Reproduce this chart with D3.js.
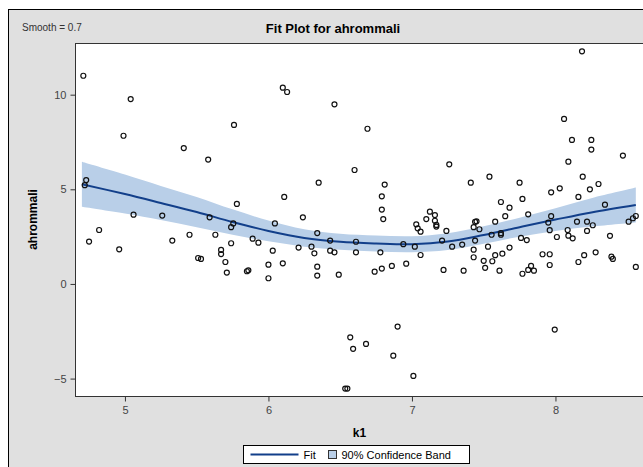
<!DOCTYPE html>
<html>
<head>
<meta charset="utf-8">
<script src="https://cdn.jsdelivr.net/npm/d3@7"></script>
<style>
    body { margin: 0; background: #fff; }
    text { font-family: Arial, "Liberation Sans", sans-serif; }
    .tick text { fill: #444; font-size: 11px; }
    .tick line { stroke: #333; }
    .domain { display: none; }
</style>
</head>
<body>
<div id="chart-holder"></div>
<script>
// scatter observations
var k1 = [4.71, 5.04, 4.99, 5.76, 5.41, 5.58, 4.73, 4.72, 5.78, 5.06, 5.26, 5.59, 5.755, 5.74, 4.82,
    4.75, 4.96, 5.33, 5.45, 5.63, 5.74, 5.89, 5.93, 5.67, 5.67, 5.51, 5.53, 5.70, 5.71, 5.85,
    5.86, 6.0, 6.0, 6.10, 6.13, 6.46, 6.69, 6.60, 6.35, 6.81, 6.79, 6.11, 6.79, 6.24, 6.80,
    7.26, 7.125, 7.16, 7.10, 6.045, 6.34, 6.21, 6.30, 6.32, 6.43, 6.43, 6.46, 6.61, 6.61, 6.03,
    6.10, 6.34, 6.34, 6.49, 6.78, 6.74, 6.79, 6.86, 6.96, 6.94, 7.02, 7.06, 7.21, 7.22, 7.03,
    7.04, 7.06, 7.16, 7.17, 7.17, 6.90, 6.57, 6.59, 6.68, 6.87, 7.01, 6.535, 6.55, 8.185, 8.06,
    8.115, 8.25, 8.25, 8.47, 8.09, 7.41, 7.54, 7.75, 8.19, 8.30, 8.24, 8.03, 7.97, 8.16, 7.77,
    7.62, 7.68, 8.345, 7.65, 7.81, 7.97, 8.56, 8.54, 8.51, 7.24, 7.28, 7.35, 7.36, 7.44, 7.45,
    7.43, 7.47, 7.58, 7.44, 7.555, 7.62, 7.62, 7.53, 7.68, 7.43, 7.43, 7.58, 7.63, 7.50, 7.56,
    7.51, 7.61, 7.77, 7.81, 7.83, 7.85, 7.76, 7.80, 7.91, 7.96, 7.96, 7.95, 7.96, 8.01, 8.085,
    8.09, 8.12, 8.15, 8.22, 8.22, 8.26, 8.38, 8.16, 8.20, 8.28, 8.39, 8.40, 8.56, 7.995];
var ahrommali = [11.0, 9.77, 7.83, 8.40, 7.18, 6.57, 5.49, 5.22, 4.23, 3.66, 3.61, 3.52, 3.2, 3.0, 2.85,
    2.24, 1.83, 2.29, 2.6, 2.6, 2.15, 2.39, 2.18, 1.8, 1.58, 1.37, 1.32, 1.16, 0.6, 0.67,
    0.72, 1.02, 0.3, 10.37, 10.14, 9.49, 8.2, 6.02, 5.35, 5.25, 4.63, 4.6, 3.93, 3.52, 3.43,
    6.32, 3.82, 3.64, 3.43, 3.2, 2.69, 1.92, 1.97, 1.62, 2.29, 1.76, 1.67, 2.23, 1.67, 1.76,
    1.09, 0.91, 0.44, 0.49, 1.67, 0.65, 0.81, 0.95, 1.07, 2.1, 1.97, 1.53, 2.29, 0.74, 3.15,
    2.94, 2.76, 3.34, 3.12, 3.03, -2.25, -2.82, -3.43, -3.17, -3.79, -4.86, -5.53, -5.53, 12.29, 8.72,
    7.61, 7.61, 7.1, 6.78, 6.46, 5.35, 5.67, 5.35, 5.67, 5.28, 5.0, 5.05, 4.84, 4.6, 4.49,
    4.33, 4.03, 4.19, 3.58, 3.68, 3.58, 3.59, 3.47, 3.29, 2.8, 1.97, 2.08, 0.7, 3.28, 3.31,
    3.0, 2.89, 3.29, 2.29, 2.6, 2.68, 2.6, 1.97, 1.92, 1.81, 1.41, 1.52, 1.6, 1.22, 1.2,
    0.85, 0.7, 0.54, 0.74, 0.95, 0.7, 2.43, 2.32, 1.57, 1.57, 1.0, 3.24, 2.84, 2.48, 2.85,
    2.55, 2.41, 3.29, 3.29, 2.8, 3.1, 2.54, 1.16, 1.52, 1.67, 1.44, 1.32, 0.9, -2.41];

// loess fit and 90% band
var fitK = [4.70, 5.0, 5.25, 5.5, 5.75, 6.0, 6.25, 6.5, 6.75, 7.0, 7.25, 7.5, 7.75, 8.0, 8.25, 8.56];
var fitY = [5.27, 4.75, 4.28, 3.8, 3.27, 2.8, 2.43, 2.23, 2.14, 2.1, 2.24, 2.59, 3.0, 3.4, 3.78, 4.17];
var bandLo = [4.08, 3.72, 3.38, 3.0, 2.6, 2.25, 1.97, 1.81, 1.72, 1.68, 1.80, 2.13, 2.50, 2.80, 3.03, 3.25];
var bandHi = [6.46, 5.78, 5.18, 4.6, 3.94, 3.35, 2.89, 2.65, 2.56, 2.52, 2.68, 3.05, 3.50, 4.00, 4.53, 5.09];

var xTicks = [5, 6, 7, 8];
var yTicks = [-5, 0, 5, 10];

var width = 643;
var height = 467;
var plot = { left: 75, right: 644, top: 43, bottom: 396 };

var fitColor = '#123f8a';
var bandColor = '#b9cfe8';

var svg = d3
    .select('#chart-holder')
    .append('svg')
    .attr('width', width)
    .attr('height', height);

// graph background and frame
svg
    .append('rect')
    .attr('x', 8.5)
    .attr('y', 9.5)
    .attr('width', 700)
    .attr('height', 500)
    .attr('fill', '#e0e0e0')
    .attr('stroke', '#000');

var x = d3.scaleLinear().domain([4.652, 8.617]).range([plot.left, plot.right]);
var y = d3.scaleLinear().domain([-5.92, 12.73]).range([plot.bottom, plot.top]);

svg
    .append('rect')
    .attr('x', plot.left + 0.5)
    .attr('y', plot.top + 0.5)
    .attr('width', plot.right - plot.left)
    .attr('height', plot.bottom - plot.top)
    .attr('fill', '#fff')
    .attr('stroke', '#333');

var fitData = fitK.map(function(k, i) {
    return { k: k, y: fitY[i], lo: bandLo[i], hi: bandHi[i] };
});

// confidence band
var band = d3
    .area()
    .x(function(d) { return x(d.k); })
    .y0(function(d) { return y(d.lo); })
    .y1(function(d) { return y(d.hi); })
    .curve(d3.curveCatmullRom);

svg
    .append('path')
    .datum(fitData)
    .attr('d', band)
    .attr('fill', bandColor);

// fit line
var line = d3
    .line()
    .x(function(d) { return x(d.k); })
    .y(function(d) { return y(d.y); })
    .curve(d3.curveCatmullRom);

svg
    .append('path')
    .datum(fitData)
    .attr('d', line)
    .attr('fill', 'none')
    .attr('stroke', fitColor)
    .attr('stroke-width', 2);

// points
svg
    .selectAll('.pt')
    .data(k1)
    .enter()
    .append('circle')
    .attr('class', 'pt')
    .attr('cx', function(d) { return x(d); })
    .attr('cy', function(d, i) { return y(ahrommali[i]); })
    .attr('r', 2.5)
    .attr('fill', 'none')
    .attr('stroke', '#111')
    .attr('stroke-width', 1.2);

// axes
svg
    .append('g')
    .attr('class', 'x-axis')
    .attr('transform', 'translate(0,' + (plot.bottom + 0.5) + ')')
    .call(d3.axisBottom(x).tickValues(xTicks).tickFormat(d3.format('d')).tickSize(5).tickPadding(5));

svg
    .append('g')
    .attr('class', 'y-axis')
    .attr('transform', 'translate(' + (plot.left + 0.5) + ',0)')
    .call(d3.axisLeft(y).tickValues(yTicks).tickFormat(d3.format('d')).tickSize(5).tickPadding(4));

// labels
svg
    .append('text')
    .attr('x', (plot.left + plot.right) / 2)
    .attr('y', 437)
    .attr('text-anchor', 'middle')
    .style('font-size', '12px')
    .style('font-weight', 'bold')
    .text('k1');

svg
    .append('text')
    .attr('transform', 'translate(37,' + (plot.top + plot.bottom) / 2 + ') rotate(-90)')
    .attr('text-anchor', 'middle')
    .style('font-size', '12px')
    .style('font-weight', 'bold')
    .text('ahrommali');

svg
    .append('text')
    .attr('x', 333)
    .attr('y', 33)
    .attr('text-anchor', 'middle')
    .style('font-size', '13px')
    .style('font-weight', 'bold')
    .text('Fit Plot for ahrommali');

svg
    .append('text')
    .attr('x', 22)
    .attr('y', 31)
    .style('font-size', '10px')
    .style('fill', '#333')
    .text('Smooth = 0.7');

// legend
var legend = svg.append('g').attr('transform', 'translate(243.5,445.5)');

legend
    .append('rect')
    .attr('width', 226)
    .attr('height', 18)
    .attr('fill', '#fff')
    .attr('stroke', '#000');

legend
    .append('line')
    .attr('x1', 7)
    .attr('x2', 55)
    .attr('y1', 9)
    .attr('y2', 9)
    .attr('stroke', fitColor)
    .attr('stroke-width', 2);

legend
    .append('text')
    .attr('x', 60)
    .attr('y', 13)
    .style('font-size', '11px')
    .text('Fit');

legend
    .append('rect')
    .attr('x', 85)
    .attr('y', 5)
    .attr('width', 8)
    .attr('height', 8)
    .attr('fill', bandColor)
    .attr('stroke', '#333');

legend
    .append('text')
    .attr('x', 98)
    .attr('y', 13)
    .style('font-size', '11px')
    .text('90% Confidence Band');
</script>
</body>
</html>
